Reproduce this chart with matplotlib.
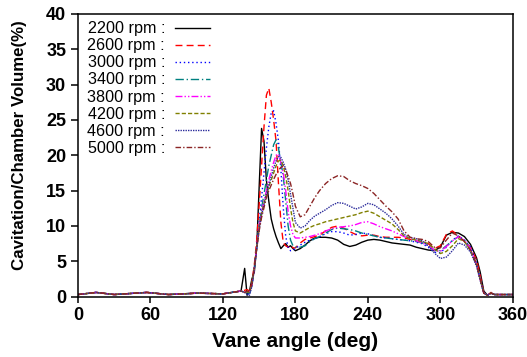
import matplotlib
matplotlib.use("Agg")
import matplotlib.pyplot as plt

plt.rcParams["font.family"] = ["Liberation Sans", "DejaVu Sans"]

# vane angle grid (deg)
angles = [0, 15, 30, 57, 75, 99, 120, 135,
          138, 140, 142, 144, 146, 148, 150, 152, 154, 156, 158, 160,
          162, 164, 166, 168, 170, 172, 174, 176, 178, 180,
          184, 188, 192, 196, 200, 205, 210, 215, 220, 225, 230, 235,
          240, 245, 250, 255, 260, 265, 270, 275, 280, 285, 290, 295,
          300, 305, 310, 315, 320, 325, 330, 333, 336, 339, 342, 345, 350, 360]

baseline = [0.3, 0.6, 0.3, 0.6, 0.3, 0.5, 0.4, 0.8]

rpm_2200 = baseline + [4.0, 0.2, 0.8, 2.5, 3.5, 7.0, 15.5, 23.8, 22.0, 16.5, 13.5, 11.0,
                       9.6, 8.5, 7.6, 6.8, 7.2, 7.5, 7.0, 7.2, 6.8, 6.5,
                       6.8, 7.3, 7.9, 8.3, 8.4, 8.4, 8.3, 8.0, 7.4, 7.1, 7.3, 7.7,
                       8.0, 8.1, 8.0, 7.8, 7.6, 7.5, 7.4, 7.3, 7.0, 6.8, 6.6, 6.5,
                       7.0, 8.7, 9.1, 9.0, 8.5, 7.4, 5.5, 3.5, 0.8, 0.2, 0.5, 0.3, 0.3, 0.3]
rpm_2600 = baseline + [0.9, 1.0, 0.8, 2.0, 4.5, 8.0, 13.0, 18.5, 24.0, 28.5, 29.5, 27.5,
                       25.0, 22.0, 16.0, 10.5, 7.6, 7.2, 7.0, 7.3, 6.9, 6.9,
                       7.6, 8.1, 8.3, 8.5, 8.7, 9.3, 9.8, 10.0, 9.7, 9.2, 8.8, 8.6,
                       8.7, 8.7, 8.5, 8.4, 8.4, 8.4, 8.3, 8.1, 7.9, 7.7, 7.5, 6.8,
                       7.2, 8.8, 9.3, 8.6, 7.8, 7.0, 5.2, 3.0, 0.6, 0.2, 0.6, 0.3, 0.3, 0.3]
rpm_3000 = baseline + [0.6, 0.5, 0.3, 1.5, 4.0, 7.0, 10.5, 14.0, 17.5, 21.0, 24.0, 26.0,
                       26.3, 24.5, 22.0, 18.0, 12.5, 8.5, 7.0, 6.5, 6.6, 6.8,
                       7.3, 7.7, 8.0, 8.2, 8.5, 8.9, 9.2, 9.2, 9.0, 8.7, 8.8, 9.0,
                       8.9, 8.6, 8.4, 8.3, 8.2, 8.1, 8.0, 7.9, 7.7, 7.5, 7.0, 6.3,
                       6.2, 7.0, 8.0, 8.6, 8.0, 7.0, 4.8, 2.8, 0.6, 0.2, 0.5, 0.3, 0.3, 0.3]
rpm_3400 = baseline + [0.6, 0.6, 0.5, 1.5, 4.0, 7.0, 10.0, 12.5, 14.5, 16.5, 18.5, 20.0,
                       21.5, 22.2, 21.0, 19.0, 17.0, 13.5, 10.0, 8.0, 7.2, 7.0,
                       7.0, 7.2, 7.8, 8.2, 8.5, 9.0, 9.5, 9.7, 9.6, 9.5, 9.3, 9.0,
                       8.8, 8.6, 8.4, 8.3, 8.2, 8.1, 8.0, 7.9, 7.8, 7.6, 7.2, 6.6,
                       6.5, 7.2, 7.9, 8.5, 8.0, 6.8, 4.5, 2.5, 0.5, 0.2, 0.5, 0.3, 0.3, 0.3]
rpm_3800 = baseline + [0.6, 0.7, 0.6, 1.7, 4.2, 7.0, 10.0, 12.0, 13.5, 15.0, 16.5, 17.8,
                       19.0, 20.0, 20.2, 19.0, 17.5, 15.0, 12.0, 10.0, 8.8, 8.3,
                       8.3, 8.4, 8.5, 8.7, 8.9, 9.3, 9.6, 9.8, 9.9, 10.0, 10.2, 10.5,
                       10.6, 10.3, 9.9, 9.6, 9.3, 8.9, 8.5, 8.2, 7.9, 7.6, 7.2, 6.6,
                       6.4, 7.1, 7.9, 8.5, 8.0, 6.8, 4.5, 2.5, 0.5, 0.2, 0.5, 0.3, 0.3, 0.3]
rpm_4200 = baseline + [0.6, 0.7, 0.6, 1.8, 4.3, 7.0, 9.8, 11.8, 13.2, 14.5, 15.6, 16.5,
                       17.5, 18.5, 19.2, 19.3, 18.5, 17.0, 15.0, 12.5, 10.5, 9.3,
                       9.0, 9.4, 9.8, 10.1, 10.3, 10.6, 10.8, 11.0, 11.2, 11.4, 11.6, 11.9,
                       12.1, 11.8, 11.3, 10.8, 10.3, 9.5, 8.6, 8.2, 8.0, 7.8, 7.5, 6.8,
                       6.1, 6.4, 7.2, 8.2, 7.8, 6.5, 4.5, 2.5, 0.5, 0.2, 0.5, 0.3, 0.3, 0.3]
rpm_4600 = baseline + [0.6, 0.3, 0.2, 1.5, 4.0, 6.8, 9.5, 11.5, 13.0, 14.5, 15.8, 17.0,
                       18.2, 19.2, 19.8, 19.7, 19.0, 18.0, 16.5, 14.5, 12.5, 10.5,
                       9.7, 10.0, 10.8, 11.4, 11.8, 12.3, 12.9, 13.3, 13.2, 12.8, 12.4, 12.7,
                       13.2, 13.0, 12.4, 11.8, 11.0, 10.0, 8.8, 8.4, 8.2, 7.9, 7.2, 6.2,
                       5.4, 5.6, 6.5, 7.6, 7.3, 6.3, 4.3, 2.3, 0.5, 0.2, 0.5, 0.3, 0.3, 0.3]
rpm_5000 = baseline + [0.6, 0.8, 0.7, 1.8, 4.2, 6.8, 9.3, 11.2, 12.6, 14.0, 15.0, 15.8,
                       16.6, 17.3, 17.9, 18.3, 18.5, 18.0, 17.0, 16.0, 14.5, 12.8,
                       11.3, 11.6, 12.8, 14.0, 15.0, 16.0, 16.7, 17.1, 17.0, 16.4, 16.0, 15.7,
                       15.3, 14.6, 13.7, 12.8, 12.0, 11.0, 9.3, 8.4, 8.2, 8.1, 7.8, 7.0,
                       6.9, 8.0, 9.0, 8.6, 7.8, 6.6, 4.6, 2.5, 0.5, 0.2, 0.5, 0.3, 0.3, 0.3]

labels = ["2200 rpm :", "2600 rpm :", "3000 rpm :", "3400 rpm :",
          "3800 rpm :", "4200 rpm :", "4600 rpm :", "5000 rpm :"]
series = [rpm_2200, rpm_2600, rpm_3000, rpm_3400, rpm_3800, rpm_4200, rpm_4600, rpm_5000]
colors = ["#000000", "#ff0000", "#0000ff", "#008080",
          "#ff00ff", "#808000", "#2a2a9a", "#8b2525"]
styles = ["-", (0, (5, 3)), (0, (1, 2)), (0, (6, 2, 1, 2)),
          (0, (5, 1.5, 1, 1.5, 1, 1.5)), (0, (3, 1.5)), (0, (1, 0.8)), (0, (4, 1.5, 1, 1.5))]

fig = plt.figure(figsize=(5.27, 3.57), dpi=100)
ax = fig.add_axes([0.148, 0.169, 0.825, 0.792])

for vals, lab, c, ls in zip(series, labels, colors, styles):
    ax.plot(angles, vals, color=c, linestyle=ls, linewidth=1.0, label=lab)

ax.set_xlim(0, 360)
ax.set_ylim(0, 40)
ax.set_xticks(range(0, 361, 60))
ax.set_yticks(range(0, 41, 5))
for lbl in ax.get_xticklabels() + ax.get_yticklabels():
    lbl.set_fontweight("bold")
ax.tick_params(axis="both", labelsize=13, direction="out", width=1.1)
ax.tick_params(axis="y", length=5)
ax.tick_params(axis="x", length=4)
for sp in ax.spines.values():
    sp.set_linewidth(1.1)

ax.set_xlabel("Vane angle (deg)", fontsize=15, fontweight="bold", labelpad=6)
ax.set_ylabel("Cavitation/Chamber Volume(%)", fontsize=12.2, fontweight="bold")
ax.yaxis.set_label_coords(-0.118, 0.535)

ax.legend(loc="upper left", bbox_to_anchor=(0.018, 0.98), frameon=False, fontsize=11.6,
          markerfirst=False, handlelength=2.2, handletextpad=0.6, labelspacing=0.13,
          borderpad=0.1, borderaxespad=0)

fig.savefig("out.png", dpi=100)
plt.close(fig)
